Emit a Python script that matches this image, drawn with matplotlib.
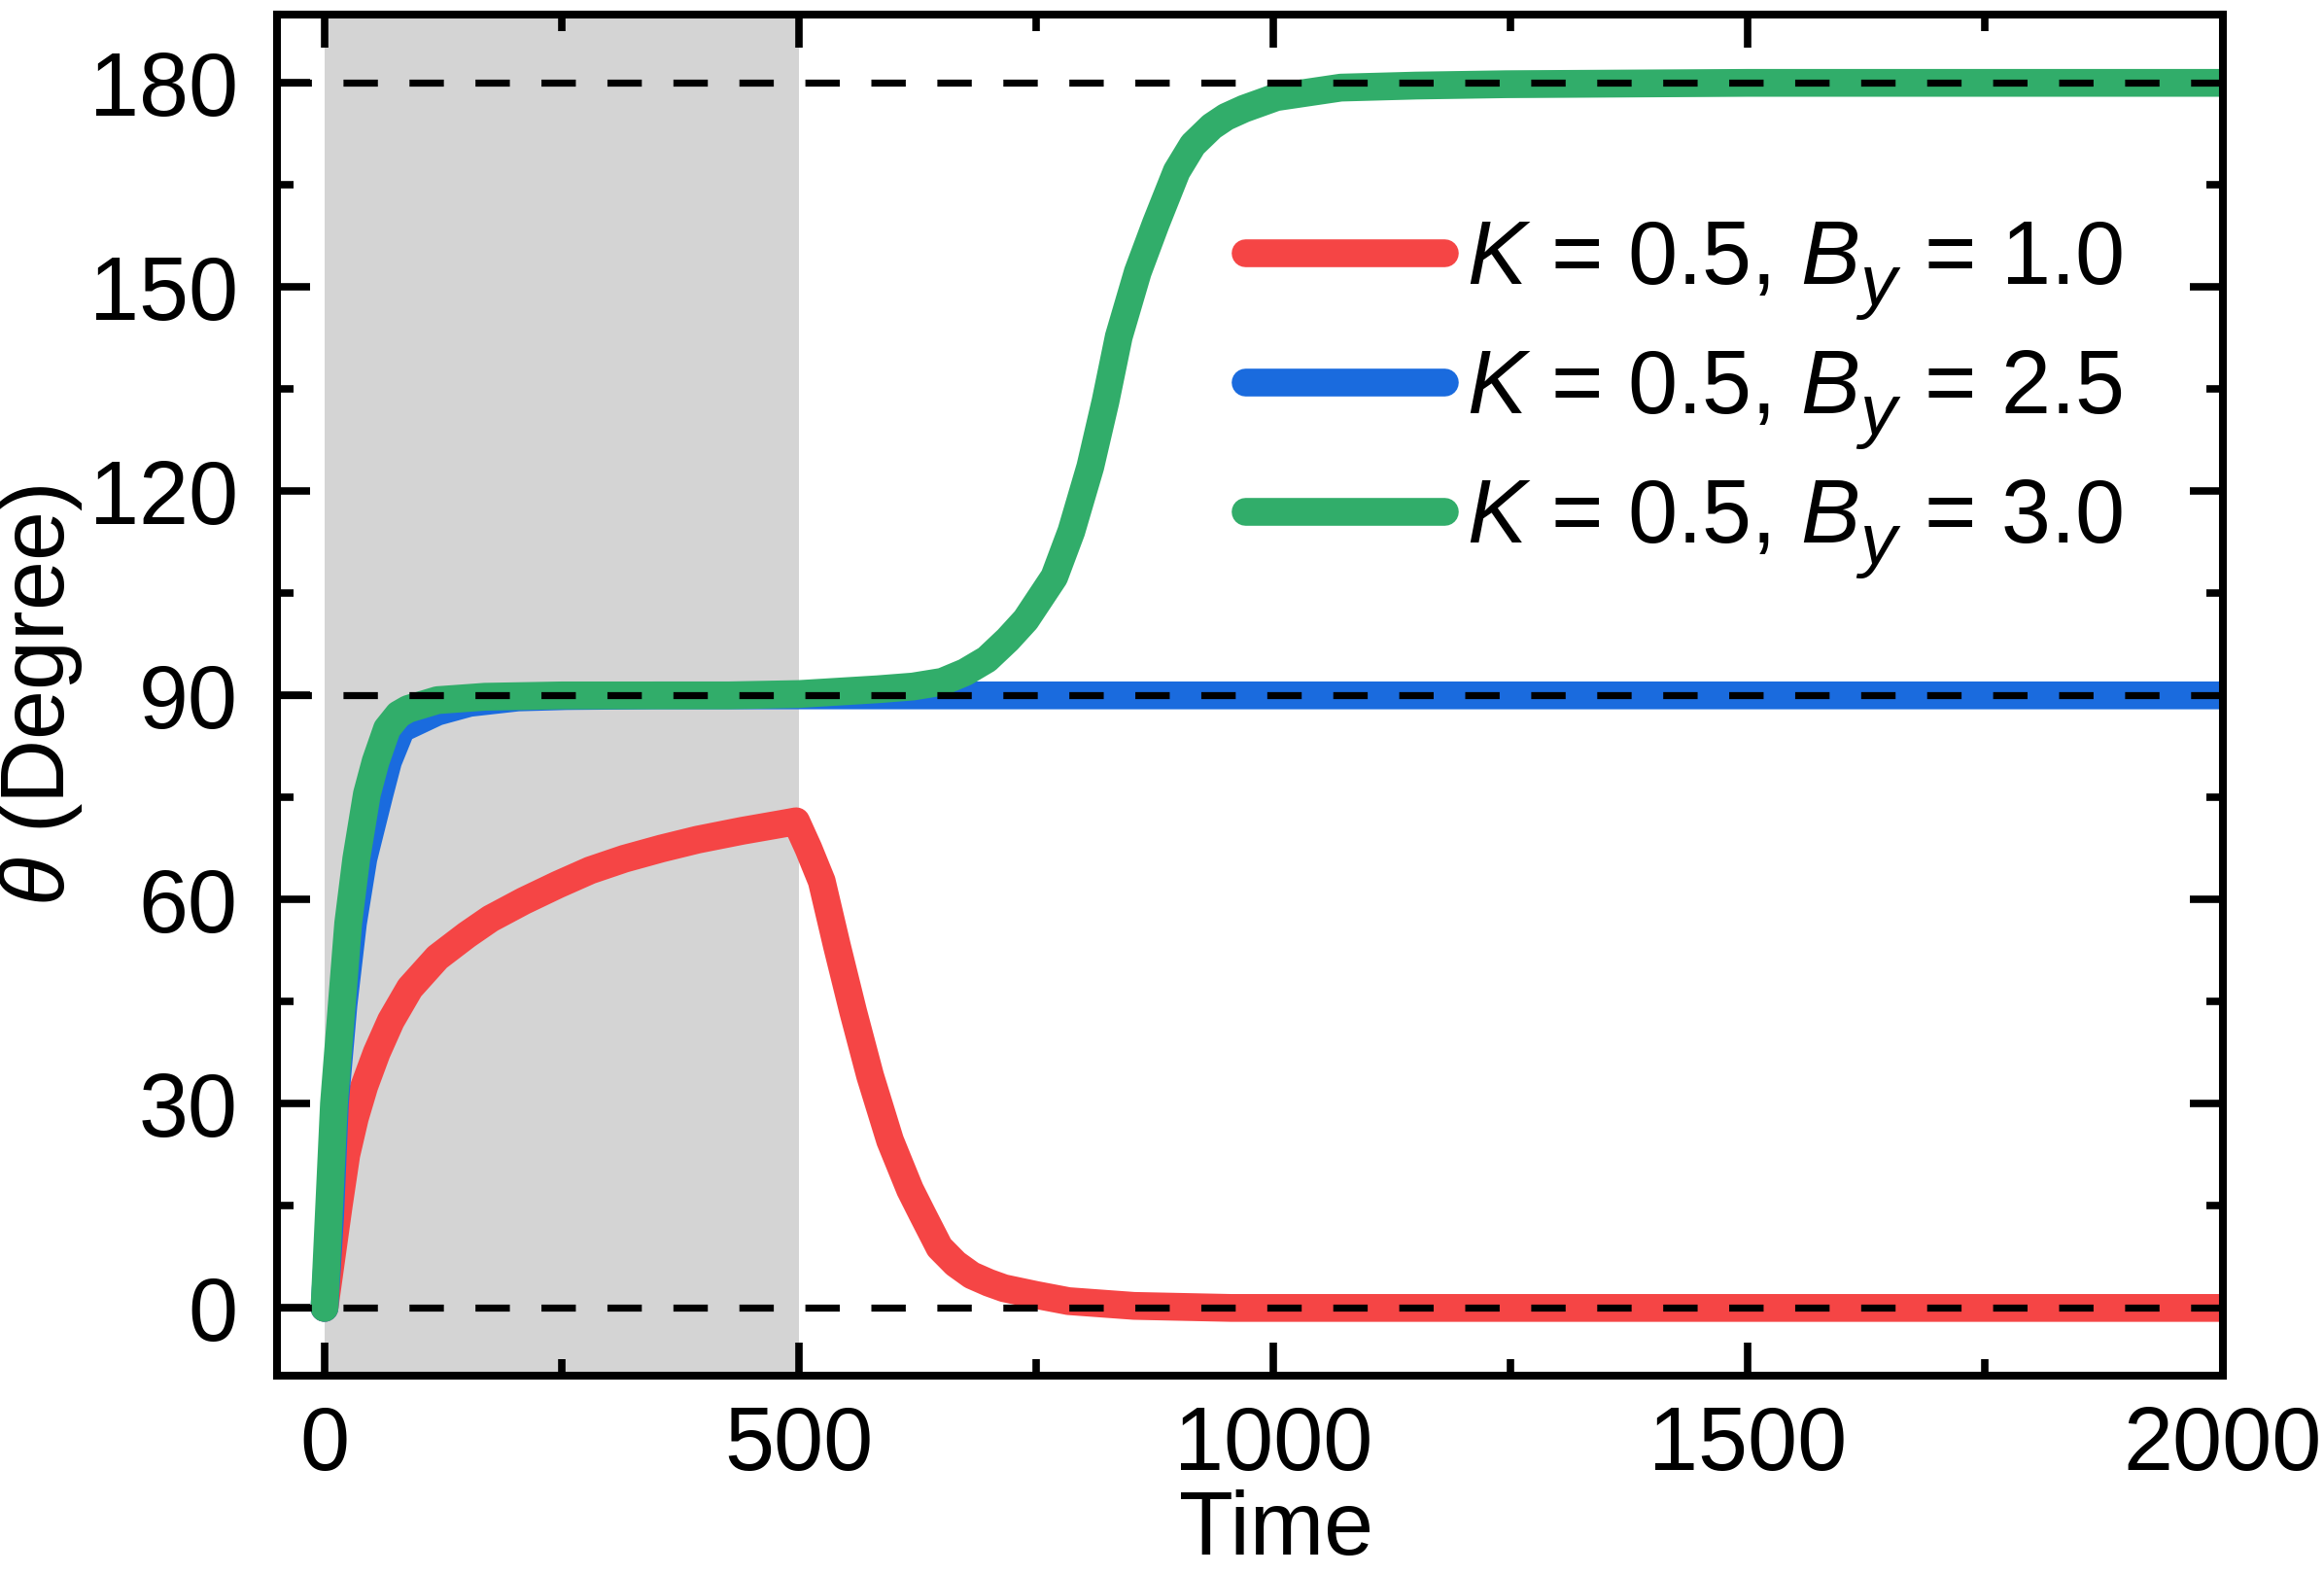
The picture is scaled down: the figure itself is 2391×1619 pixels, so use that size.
import matplotlib
matplotlib.use("Agg")
import matplotlib.pyplot as plt
from matplotlib.ticker import MultipleLocator

# ---------------- data ----------------
red_t = [0, 8, 15, 23, 32, 42, 55, 70, 90, 119, 150, 175, 210, 246, 280, 316,
         355, 393, 440, 481, 497, 510, 524, 540, 557, 575, 596, 617, 630, 648,
         665, 682, 700, 716, 750, 784, 853, 955, 1100, 1500, 2000]
red_theta = [0, 8, 15, 22.5, 27.9, 32.6, 37.5, 42.2, 47, 51.5, 54.8, 57.2, 59.8,
             62.2, 64.3, 66.0, 67.5, 68.8, 70.1, 71.1, 71.5, 67.5, 62.7, 53.2,
             43.6, 34.1, 24.6, 17.4, 13.8, 8.9, 6.5, 4.8, 3.7, 2.9, 1.9, 1.0,
             0.3, 0, 0, 0, 0]

blue_t = [0, 6, 11, 20, 30, 41, 58, 67, 81, 119, 153, 204, 255, 350, 1000, 2000]
blue_theta = [0, 13.6, 30.1, 44.5, 56.5, 66, 75.5, 80.3, 85.1, 87.6, 88.9, 89.7,
              89.9, 90, 90, 90]

green_t = [0, 10, 25, 33.5, 44.7, 53.9, 65.9, 78, 88, 119, 169, 250, 426, 500,
           583, 620, 651, 675, 698, 720, 739, 769, 787, 807, 823, 837, 857, 876,
           898, 915, 935, 950, 969, 1003, 1071, 1150, 1245, 1500, 2000]
green_theta = [0, 30, 56.5, 66, 75.5, 80.3, 85.1, 87.2, 88, 89.3, 89.8, 90, 90,
               90.2, 90.9, 91.3, 92, 93.4, 95.3, 98.2, 101.1, 107.4, 114.1,
               123.6, 133.2, 142.7, 152.2, 159.3, 167, 170.9, 173.6, 175, 176.2,
               177.9, 179.3, 179.6, 179.8, 180, 180]

labels = [r"$K$ = 0.5, $B_y$ = 1.0",
          r"$K$ = 0.5, $B_y$ = 2.5",
          r"$K$ = 0.5, $B_y$ = 3.0"]
colors = ["#F54545", "#1A6BDE", "#31AD6A"]
ref_levels = [0, 90, 180]
shade_span = [0, 500]
xticks = [0, 500, 1000, 1500, 2000]
yticks = [0, 30, 60, 90, 120, 150, 180]

# ---------------- style ----------------
plt.rcParams["font.family"] = ["Liberation Sans", "DejaVu Sans"]
plt.rcParams["mathtext.fontset"] = "custom"
plt.rcParams["mathtext.rm"] = "Liberation Sans"
plt.rcParams["mathtext.it"] = "Liberation Sans:italic"
plt.rcParams["mathtext.bf"] = "Liberation Sans:bold"

# larger, lower subscript like the reference
try:
    import matplotlib._mathtext as _mt

    class _SubConsts(_mt.FontConstantsBase):
        sub1 = 0.45

    _mt._font_constant_mapping["Liberation Sans"] = _SubConsts
    _mt.SHRINK_FACTOR = 0.82
except Exception:
    pass

FS = 66
FS_PX = FS * 100 / 72.0
W, H = 2391, 1619
fig = plt.figure(figsize=(W / 100, H / 100), dpi=100)
ax = fig.add_axes([0.1192, 0.1258, 0.9563 - 0.1192, 0.9906 - 0.1258])

ax.axvspan(shade_span[0], shade_span[1], color="#D4D4D4", lw=0, zorder=0)

series = [(red_t, red_theta), (blue_t, blue_theta), (green_t, green_theta)]
for (t, th), c, lab in zip(series, colors, labels):
    ax.plot(t, th, color=c, lw=20.6, label=lab, solid_capstyle="round",
            solid_joinstyle="round", zorder=2)

for lv in ref_levels:
    ax.axhline(lv, color="black", lw=5.2, dashes=(4.9, 4.5), zorder=3)

ax.set_xlim(-50, 2000)
ax.set_ylim(-10, 190)
ax.set_xticks(xticks)
ax.set_yticks(yticks)
ax.xaxis.set_minor_locator(MultipleLocator(250))
ax.yaxis.set_minor_locator(MultipleLocator(15))

xpad = 31.0
ax.tick_params(which="both", direction="in", top=True, right=True,
               width=5.5, labelsize=FS)
ax.tick_params(which="major", length=24.5)
ax.tick_params(which="minor", length=12.2)
ax.tick_params(axis="x", which="major", pad=xpad)
ax.tick_params(axis="y", which="major", pad=29)
for s in ax.spines.values():
    s.set_linewidth(5.8)

ax.set_xlabel("Time", fontsize=FS, labelpad=0.5, x=0.5135)
ax.set_ylabel(r"$\theta$ (Degree)", fontsize=FS, labelpad=3)

# keep the x label fully inside the figure without touching the tick labels
for _ in range(3):
    fig.canvas.draw()
    r = fig.canvas.get_renderer()
    bb = ax.xaxis.label.get_window_extent(r)
    if bb.y0 >= 1.5:
        break
    xpad -= (1.5 - bb.y0) * 72.0 / 100.0
    ax.tick_params(axis="x", which="major", pad=xpad)

# legend: handle rows centred at y = 260, 393, 526 px (from top), handle starts x = 1281 px
target_x = 1281.0
target_mid = H - 393.0
target_gap = 133.0
anchor = [target_x / W, target_mid / H]
ls = 0.3


def make_legend(ls, anchor):
    return ax.legend(loc="center left", bbox_to_anchor=tuple(anchor),
                     bbox_transform=fig.transFigure, frameon=False, fontsize=FS,
                     handlelength=2.24, handletextpad=0.25, labelspacing=ls,
                     borderpad=0, borderaxespad=0)


leg = make_legend(ls, anchor)
for _ in range(3):
    fig.canvas.draw()
    r = fig.canvas.get_renderer()
    bbs = [ln.get_window_extent(r) for ln in leg.get_lines()]
    gap = (bbs[0].y0 - bbs[2].y0) / 2.0
    ls = max(0.0, ls + (target_gap - gap) / FS_PX)
    leg.remove()
    leg = make_legend(ls, anchor)
    fig.canvas.draw()
    r = fig.canvas.get_renderer()
    bbs = [ln.get_window_extent(r) for ln in leg.get_lines()]
    dx = target_x - bbs[1].x0
    dy = target_mid - bbs[1].y0
    anchor = [anchor[0] + dx / W, anchor[1] + dy / H]
    leg.remove()
    leg = make_legend(ls, anchor)

fig.savefig("out.png", dpi=100)
